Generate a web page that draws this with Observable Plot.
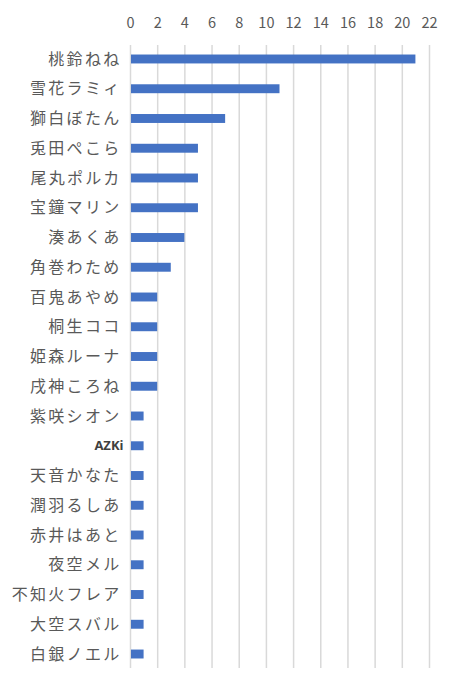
<!DOCTYPE html>
<html>
<head>
<meta charset="utf-8">
<script src="https://cdn.jsdelivr.net/npm/d3@7"></script>
<script src="https://cdn.jsdelivr.net/npm/@observablehq/plot@0.6"></script>
<style>
  html, body { margin: 0; padding: 0; background: #fff; }
  #chart svg { display: block; }
</style>
</head>
<body>
<div id="chart"></div>
<script>
const names = ["桃鈴ねね","雪花ラミィ","獅白ぼたん","兎田ぺこら","尾丸ポルカ","宝鐘マリン","湊あくあ","角巻わため","百鬼あやめ","桐生ココ","姫森ルーナ","戌神ころね","紫咲シオン","AZKi","天音かなた","潤羽るしあ","赤井はあと","夜空メル","不知火フレア","大空スバル","白銀ノエル"];
const counts = [21,11,7,5,5,5,4,3,2,2,2,2,1,1,1,1,1,1,1,1,1];
const xTicks = [0,2,4,6,8,10,12,14,16,18,20,22];

const data = names.map((n, i) => ({name: n, count: counts[i]}));

const chart = Plot.plot({
  width: 453,
  height: 680,
  marginTop: 45,
  marginBottom: 12,
  marginLeft: 130,
  marginRight: 24,
  style: {fontFamily: "'Noto Sans CJK JP', sans-serif", background: "#fff"},
  x: {domain: [0, 22], ticks: xTicks, axis: null, label: null},
  y: {domain: names, paddingInner: 0.7, paddingOuter: 0.32, round: false, axis: null, label: null},
  marks: [
    Plot.gridX(xTicks, {stroke: "#d9d9d9", strokeOpacity: 1, strokeWidth: 1.5}),
    Plot.barX(data, {x: "count", y: "name", fill: "#4472C4", insetLeft: 1}),
    Plot.axisX(xTicks, {anchor: "top", tickSize: 0, tickPadding: 18, fontSize: 14.5, fill: "#595959", tickFormat: d => d, label: null}),
    Plot.axisY(names, {anchor: "left", tickSize: 0, tickPadding: 9, fontSize: 16, fill: "#595959", label: null})
  ]
});
document.getElementById("chart").appendChild(chart);

// style the Latin label like the reference
chart.querySelectorAll("text").forEach(t => {
  if (names.includes(t.textContent)) {
    if (t.textContent === "AZKi") {
      t.setAttribute("font-size", "13");
      t.setAttribute("font-weight", "bold");
      t.setAttribute("fill", "#404040");
      t.style.fontFamily = "'Open Sans', sans-serif";
      t.setAttribute("dx", "2");
    } else {
      t.style.letterSpacing = "2.3px";
    }
  }
});
</script>
</body>
</html>
